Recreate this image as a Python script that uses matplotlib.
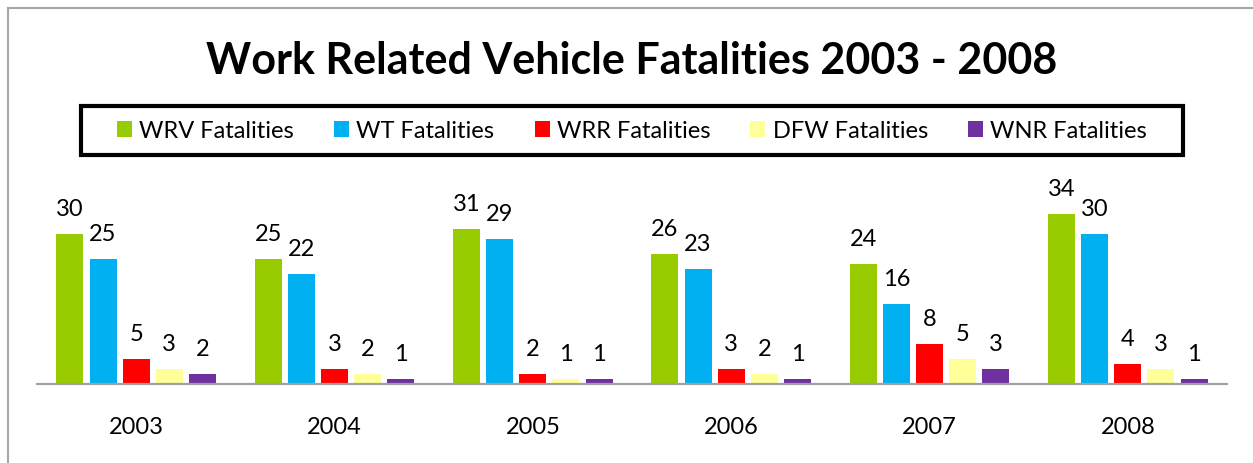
import matplotlib.pyplot as plt
import numpy as np
from matplotlib.lines import Line2D
from matplotlib.patches import Rectangle

plt.rcParams["font.family"] = ["Lato", "DejaVu Sans"]

years = ["2003", "2004", "2005", "2006", "2007", "2008"]
series_names = ["WRV Fatalities", "WT Fatalities", "WRR Fatalities", "DFW Fatalities", "WNR Fatalities"]
wrv = [30, 25, 31, 26, 24, 34]
wt = [25, 22, 29, 23, 16, 30]
wrr = [5, 3, 2, 3, 8, 4]
dfw = [3, 2, 1, 2, 5, 3]
wnr = [2, 1, 1, 1, 3, 1]
colors = ["#99CC00", "#00B0F0", "#FF0000", "#FFFF99", "#7030A0"]

W, H = 1253, 463
fig = plt.figure(figsize=(W / 100, H / 100), dpi=100)

# axes: baseline at y=384px, x from 37 to 1227px, 5px per unit
ax = fig.add_axes([37 / W, (H - 384) / H, 1190 / W, 200 / H])
ax.set_ylim(0, 40)
ax.set_xlim(-0.5, len(years) - 0.5)

x = np.arange(len(years))
pitch, width = 0.167, 0.136
for i, (name, vals, c) in enumerate(zip(series_names, [wrv, wt, wrr, dfw, wnr], colors)):
    bars = ax.bar(x + (i - 2) * pitch, vals, width, color=c, label=name)
    for b, v in zip(bars, vals):
        ax.annotate(str(v), (b.get_x() + b.get_width() / 2, v), xytext=(0, 10),
                    textcoords="offset points", ha="center", va="bottom",
                    fontsize=17, clip_on=False)

ax.set_xticks(x)
ax.set_xticklabels(years, fontsize=17)
ax.tick_params(axis="x", length=0, pad=24)
ax.set_yticks([])
for s in ["top", "left", "right"]:
    ax.spines[s].set_visible(False)
ax.spines["bottom"].set_color("#A0A0A0")
ax.spines["bottom"].set_linewidth(1.6)

# outer frame (only left and top visible)
fig.add_artist(Line2D([8 / W, 8 / W], [0, (H - 8) / H], color="#A6A6A6", lw=1.5, transform=fig.transFigure))
fig.add_artist(Line2D([8 / W, 1], [(H - 8) / H, (H - 8) / H], color="#A6A6A6", lw=1.5, transform=fig.transFigure))

fig.text(631.5 / W, (H - 74) / H, "Work Related Vehicle Fatalities 2003 - 2008",
         ha="center", va="baseline", fontsize=31, fontweight="bold")

# legend box
fig.add_artist(Rectangle((81 / W, (H - 155) / H), 1102 / W, 49 / H, transform=fig.transFigure,
                         fill=False, edgecolor="black", lw=3))
fig.legend(loc="center", bbox_to_anchor=(632 / W, (H - 131) / H), ncol=5, frameon=False,
           fontsize=17, handlelength=0.64, handleheight=0.64, handletextpad=0.3,
           columnspacing=1.7, borderpad=0)

fig.savefig("out.png", dpi=100)
